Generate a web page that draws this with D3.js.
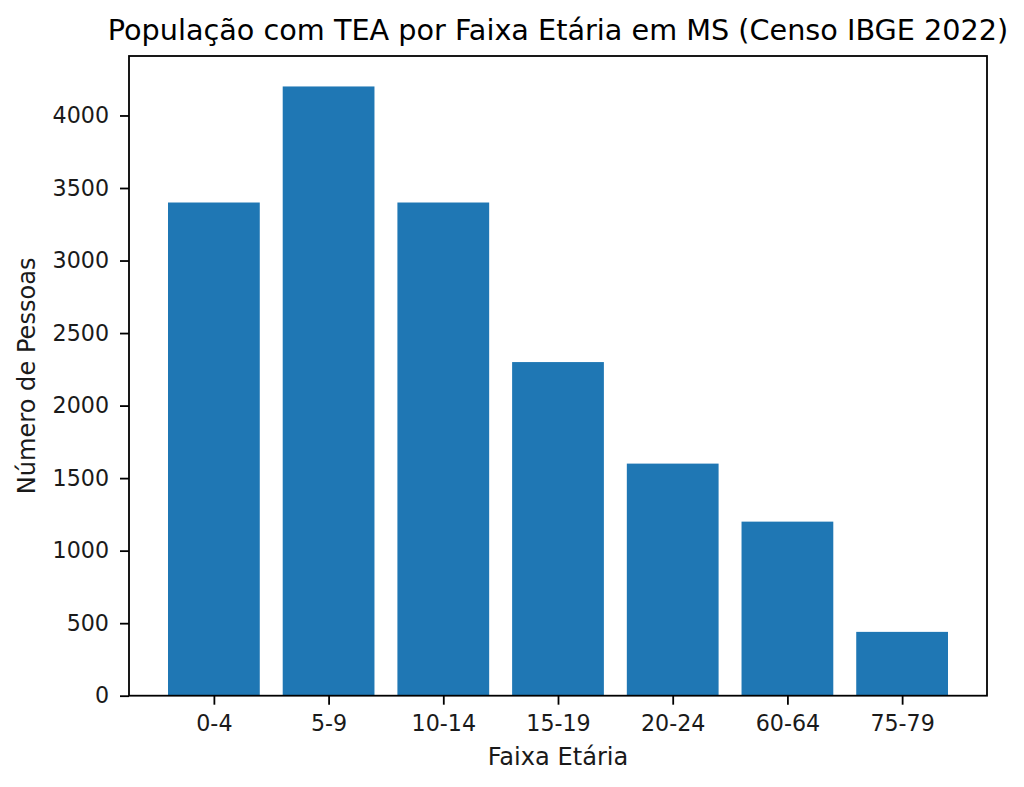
<!DOCTYPE html>
<html><head><meta charset="utf-8">
<script src="https://cdn.jsdelivr.net/npm/d3@7"></script>
<style>html,body{margin:0;padding:0;background:#fff;} svg{display:block;font-family:"DejaVu Sans",sans-serif;}</style>
</head><body>
<script>
const categories = ["0-4","5-9","10-14","15-19","20-24","60-64","75-79"];
const values = [3400,4200,3400,2300,1600,1200,440];
const yTicks = [0,500,1000,1500,2000,2500,3000,3500,4000];
const title = "População com TEA por Faixa Etária em MS (Censo IBGE 2022)";
const xLabel = "Faixa Etária";
const yLabel = "Número de Pessoas";

const W = 1024, H = 787;
const m = {left:129, right:987, top:56, bottom:695.7};
const svg = d3.select("body").append("svg").attr("width",W).attr("height",H);

const n = categories.length;
const x = d3.scaleLinear().domain([-0.74, n - 1 + 0.74]).range([m.left, m.right]);
const yMax = d3.max(values) * 1.05;
const y = d3.scaleLinear().domain([0, yMax]).range([m.bottom, m.top]);

svg.append("g").selectAll("rect").data(values).join("rect")
  .attr("x",(d,i)=>x(i-0.4)).attr("width",(d,i)=>x(i+0.4)-x(i-0.4))
  .attr("y",d=>y(d)).attr("height",d=>y(0)-y(d))
  .attr("fill","#1f77b4");

const xAxis = d3.axisBottom(x).tickValues(d3.range(n)).tickFormat(i=>categories[i]).tickSize(9).tickPadding(11);
const gx = svg.append("g").attr("transform",`translate(0,${m.bottom})`).call(xAxis);
const yAxis = d3.axisLeft(y).tickValues(yTicks).tickFormat(d3.format("d")).tickSize(9).tickPadding(11);
const gy = svg.append("g").attr("transform",`translate(${m.left},0)`).call(yAxis);
[gx,gy].forEach(g=>{
  g.select(".domain").remove();
  g.selectAll(".tick line").attr("stroke","#000").attr("stroke-width",1.8);
  g.selectAll(".tick text").attr("fill","#1a1a1a").style("font-size","22.2px").style("font-family","DejaVu Sans");
});

svg.append("rect").attr("x",m.left).attr("y",m.top).attr("width",m.right-m.left).attr("height",m.bottom-m.top)
  .attr("fill","none").attr("stroke","#000").attr("stroke-width",1.8);

svg.append("text").attr("x",(m.left+m.right)/2).attr("y",40).attr("text-anchor","middle")
  .style("font-size","28.7px").attr("fill","#000").text(title);
svg.append("text").attr("x",(m.left+m.right)/2).attr("y",765).attr("text-anchor","middle")
  .style("font-size","24.1px").attr("fill","#1a1a1a").text(xLabel);
svg.append("text").attr("transform",`translate(35,${(m.top+m.bottom)/2}) rotate(-90)`).attr("text-anchor","middle")
  .style("font-size","24.1px").attr("fill","#1a1a1a").text(yLabel);
</script>
</body></html>
